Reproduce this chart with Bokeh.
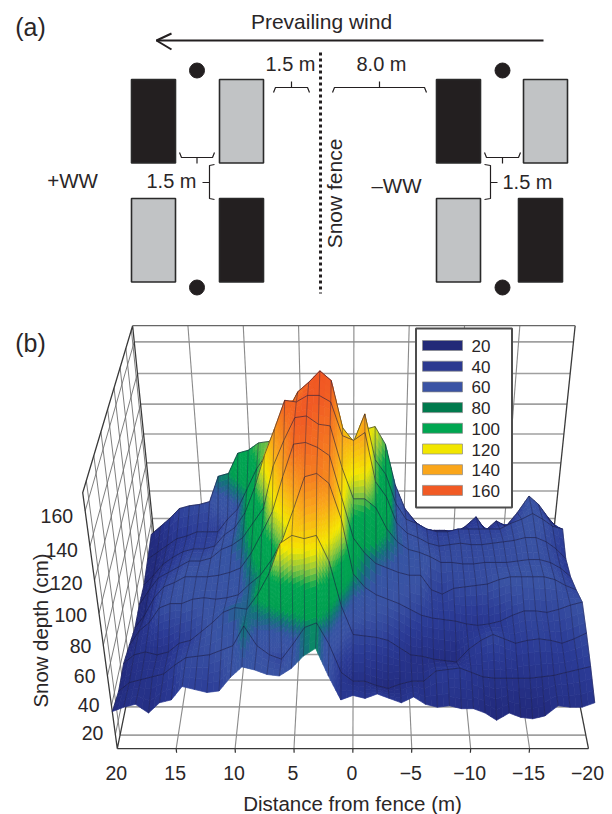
import numpy as np
from bokeh.plotting import figure
from bokeh.embed import file_html
from bokeh.resources import INLINE
from bokeh.core.properties import value

# ---- data ----
distance_m = list(range(20, -21, -1))
x_ticks = [20, 15, 10, 5, 0, -5, -10, -15, -20]
x_tick_labels = ["20", "15", "10", "5", "0", "\u22125", "\u221210", "\u221215", "\u221220"]
z_ticks = [20, 40, 60, 80, 100, 120, 140, 160]
legend_levels = [20, 40, 60, 80, 100, 120, 140, 160]
legend_colors = ["#232a78", "#2b3990", "#3a53a4", "#007a4d", "#00a651", "#f2e600", "#faa61a", "#f15a24"]

# snow depth (cm), one list per transect, front to back, from +20 m to -20 m
depth_row0 = [36,39,41,35,42,44,53,51,49,50,59,66,64,61,60,65,73,78,60,44,47,45,48,45,42,46,41,39,40,38,38,35,30,35,32,31,33,40,39,39,42]
depth_row1 = [32,38,40,42,44,50,55,56,57,60,63,76,63,57,54,64,75,78,64,45,39,39,36,34,37,39,39,46,47,48,45,42,41,41,41,41,42,43,45,47,49]
depth_row2 = [34,40,42,40,42,48,50,56,62,69,72,71,81,94,113,118,116,118,102,73,54,53,52,50,45,40,39,37,36,35,44,50,54,51,48,50,51,50,48,51,55]
depth_row3 = [30,40,46,56,59,59,62,63,62,63,65,72,78,88,101,120,140,142,136,114,79,70,65,62,59,55,51,49,48,47,45,44,45,47,51,54,54,53,55,58,60]
depth_row4 = [26,35,47,55,58,62,62,62,63,65,68,78,91,105,127,147,148,145,140,114,88,78,71,68,65,63,63,53,50,54,55,56,57,60,62,62,62,62,60,56,53]
depth_row5 = [27,37,46,50,54,58,58,60,66,69,74,84,94,121,137,151,152,147,146,120,100,100,94,80,71,66,64,61,57,57,56,56,57,57,57,58,59,59,57,53,47]
depth_row6 = [26,33,41,46,50,52,52,54,62,67,77,94,115,132,150,149,153,153,149,128,125,130,98,88,70,63,60,56,54,55,56,55,55,56,57,58,60,60,57,52,45]
depth_row7 = [30,35,40,45,47,50,50,50,59,66,80,94,104,114,131,144,150,157,151,121,112,130,100,90,70,59,56,52,50,50,52,52,52,52,52,56,59,63,59,54,52]
depth_row8 = [34,40,46,53,55,56,58,76,78,92,94,99,100,106,122,133,138,130,120,105,100,108,110,98,70,53,44,37,37,37,35,40,47,37,44,40,50,62,56,47,39]
depth_rows = [depth_row0, depth_row1, depth_row2, depth_row3, depth_row4,
              depth_row5, depth_row6, depth_row7, depth_row8]
row_depth = [k / 8 * 0.95 for k in range(9)]   # position of each transect across the box

# ---- box projection (view of the 3D axes) ----
anchors = [((20, 0, 10), (118, 750)), ((-20, 0, 10), (587, 750)),
           ((20, 0, 170), (83, 490)), ((-20, 0, 170), (622, 490)),
           ((20, 1, 10), (156, 556)), ((-20, 1, 10), (550, 556)),
           ((20, 1, 170), (130, 327)), ((-20, 1, 170), (577, 327))]
A, b = [], []
for (X, Y, Z), (u, v) in anchors:
    A.append([X, Y, Z, 1, 0, 0, 0, 0, -u * X, -u * Y, -u * Z])
    b.append(u)
    A.append([0, 0, 0, 0, X, Y, Z, 1, -v * X, -v * Y, -v * Z])
    b.append(v)
P = np.linalg.lstsq(np.array(A, float), np.array(b, float), rcond=None)[0]


def proj(X, Y, Z):
    X, Y, Z = np.asarray(X, float), np.asarray(Y, float), np.asarray(Z, float)
    w = P[8] * X + P[9] * Y + P[10] * Z + 1
    return (P[0] * X + P[1] * Y + P[2] * Z + P[3]) / w, (P[4] * X + P[5] * Y + P[6] * Z + P[7]) / w


ramp_z = [10, 20, 35, 48, 60, 68, 74, 80, 94, 102, 111, 128, 152, 175]
ramp_c = ["#20286f", "#212874", "#232c80", "#2b3b96", "#3a53a4", "#3654a4", "#14707c", "#00a050", "#00a651",
          "#8cc63f", "#f5e800", "#faa61a", "#f15a24", "#ee4a1e"]
ramp_rgb = np.array([[int(c[i:i + 2], 16) for i in (1, 3, 5)] for c in ramp_c], float)


def zcolor(z):
    return "#%02x%02x%02x" % tuple(int(round(np.interp(z, ramp_z, ramp_rgb[:, j]))) for j in range(3))


W, H = 612, 814
p = figure(width=W, height=H, x_range=(0, W), y_range=(H, 0), toolbar_location=None,
           output_backend="svg", min_border=0, outline_line_color=None)
p.axis.visible = False
p.grid.visible = False
FONT = value("Liberation Sans")
INK = "#2a2627"


def txt(x, y, s, size, align="center", angle=0.0):
    p.text(x=[x], y=[y], text=[s], text_font=FONT, text_font_size=f"{size}px", text_color=INK,
           text_align=align, text_baseline="middle", angle=angle)


# ---- panel (a) ----
def box(l, r, t, b, fill, line):
    p.quad(left=[l], right=[r], top=[t], bottom=[b], fill_color=fill, line_color=line, line_width=1.6)


BLK, GRY = "#231f20", "#c1c3c5"
for l, t, f in [(131, 79, BLK), (219, 79, GRY), (131, 198, GRY), (219, 198, BLK),
                (436, 79, BLK), (523, 79, GRY), (436, 198, GRY), (518, 198, BLK)]:
    box(l, l + 44, t, t + 83.5, f, "#2a2a2a")
p.scatter(x=[196.5, 502, 196.5, 502], y=[70, 70, 287, 287], size=15, color=BLK, line_color=BLK)
p.line([320, 320], [52, 293], line_width=3, line_color=BLK, line_dash="3 3")
p.line([543, 156], [40, 40], line_width=2, line_color=BLK)
p.line([171, 156, 171], [33, 40, 49], line_width=2, line_color=BLK)


def hbrace(l, r, yb, up=True):
    c = (l + r) / 2
    d = -1 if up else 1
    p.line([l, l + 2, r - 2, r], [yb + 5 * -d, yb, yb, yb + 5 * -d], line_width=1.2, line_color=BLK)
    p.line([c, c], [yb, yb + 6 * d], line_width=1.2, line_color=BLK)


hbrace(273, 309, 87)
hbrace(332, 426, 87)
hbrace(179, 214, 157, up=False)
hbrace(484, 520, 157, up=False)
for sp, e, st in [(209, 214, 202), (490, 484, 497)]:
    p.line([e, sp, sp, e], [164, 165, 198, 199], line_width=1.2, line_color=BLK)
    p.line([sp, st], [182, 182], line_width=1.2, line_color=BLK)

txt(30, 26, "(a)", 25)
txt(30, 342, "(b)", 25)
txt(321, 21, "Prevailing wind", 21)
txt(290, 63, "1.5 m", 20)
txt(381, 63, "8.0 m", 20)
txt(171, 180, "1.5 m", 20)
txt(527, 181, "1.5 m", 20)
txt(72, 180, "+WW", 20.5)
txt(396, 185, "\u2013WW", 20.5)
txt(334, 193, "Snow fence", 21, angle=np.pi / 2)

# ---- panel (b): box ----
Z0, Z1 = 10, 170
GRID = "#a0a0a0"
floor_lines = [0.06, 0.19, 0.32, 0.45, 0.58, 0.71, 0.84, 0.97]
for z in z_ticks:
    u, v = proj([20, -20], [1, 1], [z, z])
    p.line(u, v, line_color=GRID, line_width=1.6)
for t in floor_lines:
    u, v = proj([20, -20], [t, t], [Z0, Z0])
    p.line(u, v, line_color=GRID, line_width=1.6)
for x in x_ticks[1:-1]:
    u, v = proj([x, x], [1, 1], [Z0, Z1])
    p.line(u, v, line_color="#8a8a8a", line_width=1.1)
    u, v = proj([x, x], [0, 1], [Z0, Z0])
    p.line(u, v, line_color="#8a8a8a", line_width=1.1)
    u, v = proj([x, x], [0, 0], [Z0 - 3, Z0])
    p.line(u, v, line_color="#333333", line_width=1.2)
# left wall lattice
for z in z_ticks:
    u, v = proj([20, 20], [0, 1], [z, z])
    p.line(u, v, line_color="#6f6f6f", line_width=0.9)
for t in floor_lines:
    u, v = proj([20, 20], [t, t], [Z0, Z1])
    p.line(u, v, line_color="#6f6f6f", line_width=0.9)
# outline
for seg in [((20, 20, 20, 20, 20), (0, 1, 1, 0, 0), (Z0, Z0, Z1, Z1, Z0)),
            ((-20, -20), (1, 1), (Z0, Z1)), ((-20, -20), (0, 1), (Z0, Z0)),
            ((20, -20), (0, 0), (Z0, Z0))]:
    u, v = proj(*seg)
    p.line(u, v, line_color="#3a3a3a", line_width=1.3)
u, v = proj([20, -20], [1, 1], [Z1, Z1])
p.line(u, v, line_color="#666666", line_width=1.2)

# ---- panel (b): surface, back to front ----
X = np.array(distance_m, float)
D = np.array(depth_rows, float)
MESH = "#1a1a40"
for k in range(len(depth_rows) - 2, -1, -1):
    xs, ys, cols = [], [], []
    for i in range(len(X) - 1):
        corners = [D[k, i], D[k, i + 1], D[k + 1, i], D[k + 1, i + 1]]
        NY = int(max(3, np.ceil(max(abs(corners[0] - corners[2]), abs(corners[1] - corners[3])) / 3)))
        NX = int(max(2, np.ceil(max(abs(corners[0] - corners[1]), abs(corners[2] - corners[3])) / 4)))
        for a in range(NY):
            for c in range(NX):
                cc = np.array([c, c + 1, c + 1, c]) / NX
                aa = np.array([a, a, a + 1, a + 1]) / NY
                Xq = X[i] + (X[i + 1] - X[i]) * cc
                Yq = row_depth[k] + (row_depth[k + 1] - row_depth[k]) * aa
                Zq = (D[k, i] * (1 - cc) * (1 - aa) + D[k, i + 1] * cc * (1 - aa)
                      + D[k + 1, i] * (1 - cc) * aa + D[k + 1, i + 1] * cc * aa)
                u, v = proj(Xq, Yq, Zq)
                xs.append(u.tolist())
                ys.append(v.tolist())
                cols.append(zcolor(Zq.mean()))
    p.patches(xs, ys, fill_color=cols, line_color=cols, line_width=0.7)
    mx, my = [], []
    for i in range(len(X)):
        u, v = proj([X[i], X[i]], [row_depth[k], row_depth[k + 1]], [D[k, i], D[k + 1, i]])
        mx.append(u.tolist())
        my.append(v.tolist())
    p.multi_line(mx, my, line_color=MESH, line_alpha=0.5, line_width=0.8)
    u, v = proj(X, np.full(len(X), row_depth[k + 1]), D[k + 1])
    p.line(u, v, line_color=MESH, line_alpha=0.65, line_width=0.9)

# ---- panel (b): tick labels ----
for x, s in zip(x_ticks, x_tick_labels):
    u, v = proj([x], [0], [Z0])
    txt(float(u[0]) - 1, 772, s, 19.5)
for z in z_ticks:
    u, v = proj([20], [0], [z])
    txt(float(u[0]) - 12, float(v[0]) - 2 + (z - 20) * 0.05, str(z), 19.5, align="right")
txt(352, 803, "Distance from fence (m)", 20.5)
txt(40, 630, "Snow depth (cm)", 20.4, angle=np.pi / 2)

# ---- panel (b): legend ----
p.quad(left=[415.5], right=[511.5], top=[328], bottom=[507], fill_color="white", line_color="#4d4d4d", line_width=2)
for i, (lv, c) in enumerate(zip(legend_levels, legend_colors)):
    yc = 345 + i * 20.7
    p.quad(left=[422], right=[462], top=[yc - 5], bottom=[yc + 5], fill_color=c, line_color="#8a8a8a", line_width=0.7)
    txt(471, yc + 0.5, str(lv), 17, align="left")

open("out.html", "w").write(file_html(p, INLINE))
